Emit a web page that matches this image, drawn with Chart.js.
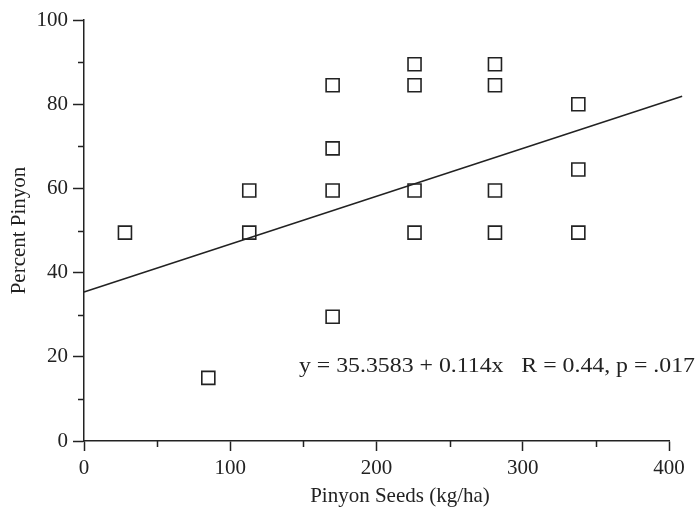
<!DOCTYPE html>
<html>
<head>
<meta charset="utf-8">
<script src="https://cdn.jsdelivr.net/npm/chart.js@4/dist/chart.umd.min.js"></script>
<style>
  html, body { margin: 0; padding: 0; background: #fff; }
  #wrap { width: 697px; height: 507px; position: relative; }
</style>
</head>
<body>
<div id="wrap"><canvas id="c"></canvas></div>
<script>
/* ---------- Data ---------- */
const seedsX = [28, 85, 113, 113, 170, 170, 170, 170, 226, 226, 226, 226, 281, 281, 281, 281, 338, 338, 338];
const pinyonY = [49.5, 15, 59.5, 49.5, 84.5, 69.5, 59.5, 29.5, 89.5, 84.5, 59.5, 49.5, 89.5, 84.5, 59.5, 49.5, 80, 64.5, 49.5];

// regression line end points, as drawn
const fitX = [0, 409];
const fitY = [35.4, 81.9];

const xTicks = [0, 100, 200, 300, 400];
const yTicks = [0, 20, 40, 60, 80, 100];
const xMinor = [50, 150, 250, 350];
const yMinor = [10, 30, 50, 70, 90];

const fitLabel = 'y = 35.3583 + 0.114x   R = 0.44, p = .017';
const xTitle = 'Pinyon Seeds (kg/ha)';
const yTitle = 'Percent Pinyon';

/* ---------- Style ---------- */
const INK = '#222';
const FONT = "'Liberation Serif', 'DejaVu Serif', serif";

/* ---------- Extra drawing: minor ticks, x title, fit label ---------- */
const decor = {
  id: 'decor',
  afterDraw(chart) {
    const { ctx, chartArea: a, scales: { x, y } } = chart;
    ctx.save();
    ctx.strokeStyle = INK;
    ctx.lineWidth = 1.5;
    ctx.beginPath();
    xMinor.forEach(v => {
      const px = Math.round(x.getPixelForValue(v)) + 0.5;
      ctx.moveTo(px, a.bottom);
      ctx.lineTo(px, a.bottom + 6);
    });
    yMinor.forEach(v => {
      const py = Math.round(y.getPixelForValue(v)) + 0.5;
      ctx.moveTo(a.left, py);
      ctx.lineTo(a.left - 6, py);
    });
    ctx.stroke();

    ctx.fillStyle = INK;
    ctx.font = '21px ' + FONT;
    ctx.textBaseline = 'alphabetic';
    ctx.textAlign = 'center';
    ctx.fillText(xTitle, 400, 502);

    // fit label: the original type is set wide, stretch it to span ~396px
    ctx.textAlign = 'left';
    const lx = x.getPixelForValue(147);
    const ly = y.getPixelForValue(16.3);
    const sx = 396 / ctx.measureText(fitLabel).width;
    ctx.translate(lx, ly);
    ctx.scale(sx, 1);
    ctx.fillText(fitLabel, 0, 0);
    ctx.restore();
  }
};

/* ---------- Chart ---------- */
new Chart(document.getElementById('c'), {
  type: 'scatter',
  data: {
    datasets: [
      {
        label: 'Fit',
        type: 'line',
        data: fitX.map((v, i) => ({ x: v, y: fitY[i] })),
        borderColor: INK,
        borderWidth: 1.5,
        pointRadius: 0,
        fill: false,
        clip: false,
        order: 2,
      },
      {
        label: 'Sites',
        data: seedsX.map((v, i) => ({ x: v, y: pinyonY[i] })),
        pointStyle: 'rect',
        pointRadius: 9.2,
        pointBorderWidth: 1.6,
        pointBorderColor: INK,
        pointBackgroundColor: 'rgba(255,255,255,0)',
        order: 1,
      },
    ],
  },
  options: {
    responsive: true,
    maintainAspectRatio: false,
    animation: false,
    layout: { padding: { top: 20, right: 28, left: 0, bottom: 0 } },
    plugins: {
      legend: { display: false },
      tooltip: { enabled: false },
    },
    scales: {
      x: {
        type: 'linear',
        min: 0,
        max: 400,
        afterFit(s) { s.height = 66; },
        afterBuildTicks(s) { s.ticks = xTicks.map(v => ({ value: v })); },
        grid: { drawOnChartArea: false, drawTicks: true, tickLength: 10, color: INK, tickWidth: 1.5 },
        border: { display: true, color: INK, width: 1.5 },
        ticks: { color: INK, font: { family: FONT, size: 21 }, padding: 5, maxRotation: 0 },
      },
      y: {
        type: 'linear',
        min: 0,
        max: 100,
        afterFit(s) { s.width = 84; },
        afterBuildTicks(s) { s.ticks = yTicks.map(v => ({ value: v })); },
        grid: { drawOnChartArea: false, drawTicks: true, tickLength: 11, color: INK, tickWidth: 1.5 },
        border: { display: true, color: INK, width: 1.5 },
        ticks: { color: INK, font: { family: FONT, size: 21 }, padding: 5 },
        title: { display: true, text: yTitle, color: INK, font: { family: FONT, size: 21 }, padding: { top: 7, bottom: 0 } },
      },
    },
  },
  plugins: [decor],
});
</script>
</body>
</html>
